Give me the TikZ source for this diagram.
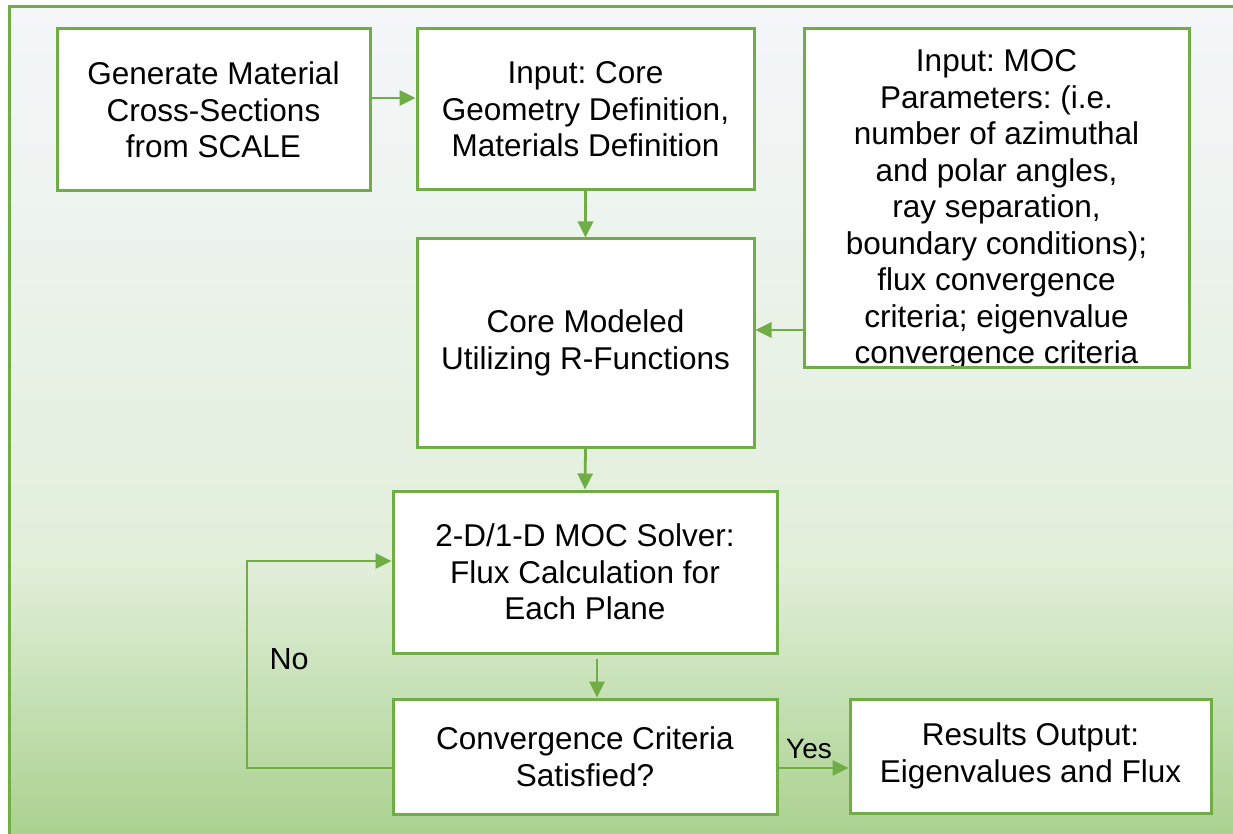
\documentclass[tikz,border=0pt]{standalone}
\usepackage{fontspec}
\setmainfont{Liberation Sans}
\usetikzlibrary{arrows.meta,calc}
\definecolor{gr}{HTML}{70AD47}
\definecolor{bgtop}{HTML}{F4F6FA}
\definecolor{bgmid}{HTML}{E2EFDA}
\definecolor{bgbot}{HTML}{A9D18E}
\frenchspacing
\begin{document}
\begin{tikzpicture}[x=1pt,y=-1pt,
  box/.style={draw=gr, line width=3pt, fill=white, inner sep=0pt, align=center,
    font=\fontsize{31.5}{36.5}\selectfont},
  arr/.style={draw=gr, line width=2.8pt, -{Triangle[length=16pt,width=15pt]}},
  lbl/.style={font=\fontsize{30.5}{36}\selectfont, inner sep=0pt}]
\useasboundingbox (0,0) rectangle (1233,834);
\begin{scope}
\clip (0,0) rectangle (1233,834);
\fill[white] (0,0) rectangle (1233,834);
\fill[top color=bgtop, bottom color=bgmid] (9,7) rectangle (1250,561);
\fill[top color=bgmid, bottom color=bgbot] (9,560) rectangle (1250,840);
\draw[gr, line width=3pt] (9,7) rectangle (1250,850);
\end{scope}

\node[box, minimum width=313pt, minimum height=162pt] (gen) at (213.5,110)
  {Generate Material\\Cross-Sections\\from SCALE};
\node[box, minimum width=337pt, minimum height=161pt] (corein) at (585.5,109.5)
  {Input: Core\\Geometry Definition,\\Materials Definition};
\node[box, minimum width=385pt, minimum height=338pt] (moc) at (996.5,198) {};
\begin{scope}
\clip (805.5,30.5) rectangle (1187.5,365.5);
\node[inner sep=0pt, anchor=north, align=center, font=\fontsize{31.5}{36.5}\selectfont] (moctext) at (996.5,49.5)
  {Input: MOC\\Parameters: (i.e.\\number of azimuthal\\and polar angles,\\ray separation,\\boundary conditions);\\flux convergence\\criteria; eigenvalue\\convergence criteria};
\end{scope}
\node[box, minimum width=337pt, minimum height=208pt] (model) at (585.5,343)
  {Core Modeled\\Utilizing R-Functions};
\node[box, minimum width=384pt, minimum height=162pt] (solver) at (585,572)
  {2-D/1-D MOC Solver:\\Flux Calculation for\\Each Plane};
\node[box, minimum width=384pt, minimum height=115pt] (conv) at (585,756.5)
  {Convergence Criteria\\Satisfied?};
\node[box, minimum width=361pt, minimum height=114pt] (res) at (1030.5,756)
  {Results Output:\\Eigenvalues and Flux};

\coordinate (s5) at (597,659);
\coordinate (lp) at (247,561);
\coordinate (cy) at (0,768);

\draw[arr] (gen.east |- 0,98) -- (corein.west |- 0,98);
\draw[arr] (corein.south) -- (model.north);
\draw[arr] (moc.west |- 0,330) -- (model.east |- 0,330);
\draw[arr] (model.south) -- (solver.north);
\draw[arr] (s5) -- (conv.north -| s5);
\draw[arr] (conv.west |- cy) -| (lp) -- (solver.west |- lp);
\draw[arr] (conv.east |- cy) -- (res.west |- cy);

\node[lbl] (no) at (289,659) {No};
\node[lbl, font=\fontsize{28}{34}\selectfont] (yes) at (809,749) {Yes};
\end{tikzpicture}
\end{document}
